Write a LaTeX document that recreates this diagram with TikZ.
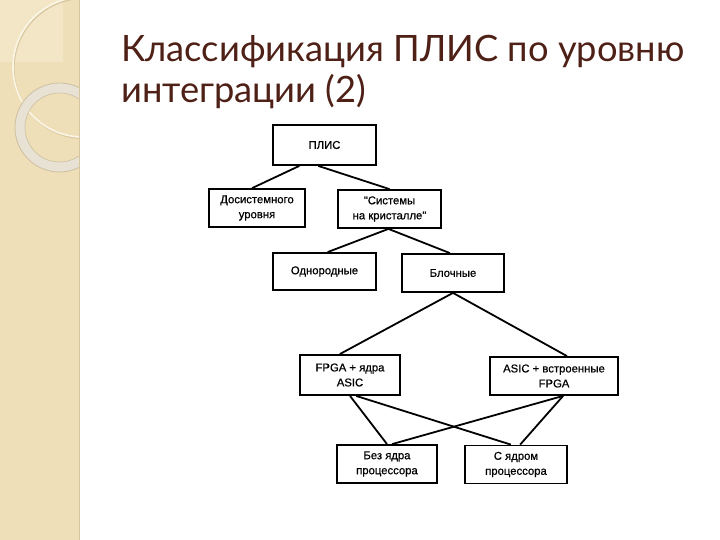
\documentclass[tikz,border=0pt]{standalone}
\usepackage{fontspec}
\setmainfont{Liberation Sans}
\newfontfamily\boxfont[FakeBold=0.6]{Liberation Sans}
\newfontfamily\titlefont{Lato}
\usetikzlibrary{calc}
\definecolor{strip}{HTML}{EEDFB8}
\definecolor{stripLight}{HTML}{F2E6C6}
\definecolor{stripEdge}{HTML}{D6C59E}
\definecolor{arcLight}{HTML}{FBF5E6}
\definecolor{arcShade}{HTML}{D9C79F}
\definecolor{ringFill}{HTML}{E8E2D5}
\definecolor{ringEdge}{HTML}{CDBF9F}
\definecolor{titlecol}{HTML}{4E2016}
\tikzset{
  box/.style={draw=black, line width=1.8pt, fill=white, inner sep=0pt,
    align=center, font=\boxfont\fontsize{11.3}{15}\selectfont},
  link/.style={draw=black, line width=1.8pt},
  ttl/.style={anchor=base west, inner sep=0pt, text=titlecol,
    font=\titlefont\fontsize{36.3}{41}\selectfont}
}
\begin{document}
\begin{tikzpicture}[x=1pt,y=-1pt]
\useasboundingbox (0,0) rectangle (720,540);
\fill[white] (0,0) rectangle (720,540);
% left decorative strip
\begin{scope}
  \clip (0,0) rectangle (79,540);
  \fill[strip] (0,0) rectangle (79,540);
  \fill[stripLight] (0,0) rectangle (63,62);
  \draw[arcShade, line width=1.2pt] (84,68.5) circle[radius=70];
  \draw[arcLight, line width=1.6pt] (83,67) circle[radius=70];
  \fill[ringFill, even odd rule] (59.5,127.5) circle[radius=44.5] (59.5,127.5) circle[radius=34.5];
  \draw[ringEdge, line width=0.8pt] (59.5,127.5) circle[radius=44.5];
  \draw[ringEdge, line width=0.6pt] (59.5,127.5) circle[radius=34.5];
\end{scope}
\draw[stripEdge, line width=1.5pt] (79.5,0) -- (79.5,540);
% title
\node[ttl] (t1) at (121,62) {Классификация ПЛИС по уровню};
\node[ttl] (t2) at (121,103) {интеграции (2)};
% boxes
\node[box, minimum width=103pt, minimum height=40pt] (plis) at (324.5,145) {ПЛИС};
\node[box, minimum width=96pt, minimum height=38pt] (dos) at (257,208) {Досистемного\\уровня};
\node[box, minimum width=103pt, minimum height=38pt] (soc) at (389.5,209) {"Системы\\на кристалле"};
\node[box, minimum width=103pt, minimum height=37pt] (odn) at (324.5,271.5) {Однородные};
\node[box, minimum width=102pt, minimum height=38pt] (blk) at (453,273) {Блочные};
\node[box, minimum width=100pt, minimum height=40pt] (fpga) at (350,375) {FPGA + ядра\\ASIC};
\node[box, minimum width=128pt, minimum height=38pt] (asic) at (554,376) {ASIC + встроенные\\FPGA};
\node[box, minimum width=100pt, minimum height=38pt] (bez) at (387,464) {Без ядра\\процессора};
\node[box, minimum width=102pt, minimum height=38pt] (sya) at (516,464.5) {С ядром\\процессора};
% connectors
\draw[link] ($(plis.south west)!0.26!(plis.south east)$) -- ($(dos.north west)!0.45!(dos.north east)$);
\draw[link] ($(plis.south west)!0.44!(plis.south east)$) -- ($(soc.north west)!0.5!(soc.north east)$);
\draw[link] ($(soc.south west)!0.49!(soc.south east)$) -- ($(odn.north west)!0.53!(odn.north east)$);
\draw[link] ($(soc.south west)!0.49!(soc.south east)$) -- ($(blk.north west)!0.47!(blk.north east)$);
\draw[link] ($(blk.south west)!0.5!(blk.south east)$) -- ($(fpga.north west)!0.4!(fpga.north east)$);
\draw[link] ($(blk.south west)!0.5!(blk.south east)$) -- ($(asic.north west)!0.6!(asic.north east)$);
\draw[link] ($(fpga.south west)!0.5!(fpga.south east)$) -- ($(bez.north west)!0.5!(bez.north east)$);
\draw[link] ($(fpga.south west)!0.56!(fpga.south east)$) -- ($(sya.north west)!0.45!(sya.north east)$);
\draw[link] ($(asic.south west)!0.57!(asic.south east)$) -- ($(bez.north west)!0.55!(bez.north east)$);
\draw[link] ($(asic.south west)!0.57!(asic.south east)$) -- ($(sya.north west)!0.54!(sya.north east)$);
\end{tikzpicture}
\end{document}
